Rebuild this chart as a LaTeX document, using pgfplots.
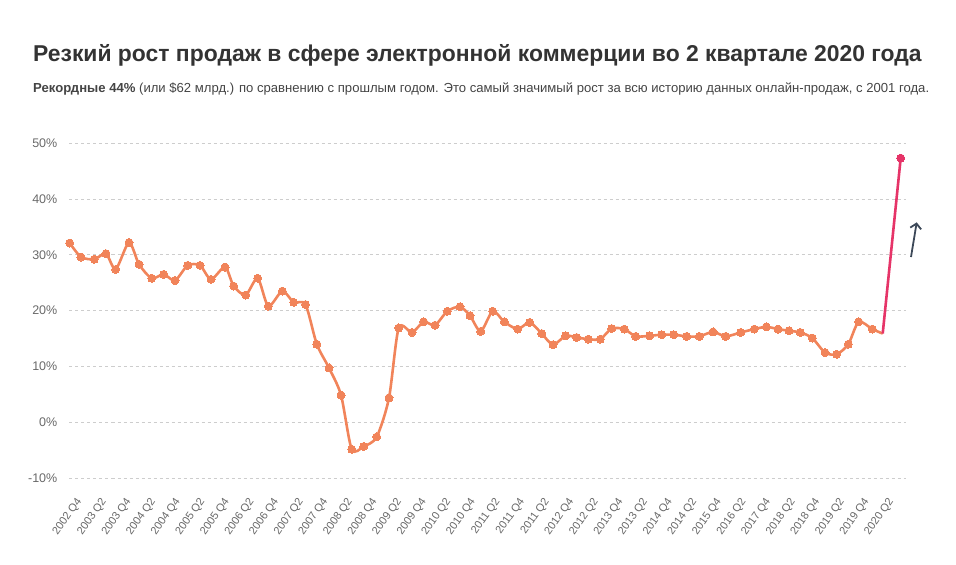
\documentclass[border=0pt]{standalone}
\usepackage{pgfplots}
\pgfplotsset{compat=1.18}
\usepackage{fontspec}
\setmainfont{Liberation Sans}
\usetikzlibrary{arrows.meta}
\definecolor{lineor}{RGB}{241,132,90}
\definecolor{linered}{RGB}{230,52,104}
\definecolor{arrowc}{RGB}{60,72,88}
\definecolor{titlec}{RGB}{51,51,51}
\definecolor{subc}{RGB}{68,68,68}
\definecolor{tickc}{RGB}{105,105,105}
\definecolor{gridc}{RGB}{205,205,205}

% x = horizontal position of each quarter
\pgfplotstableread{
x      y
69.7   32.1
81.0   29.6
94.3   29.2
106.0  30.2
115.7  27.4
129.0  32.2
139.0  28.3
151.7  25.8
163.7  26.5
175.0  25.4
187.7  28.1
200.0  28.1
211.0  25.6
225.0  27.8
233.7  24.4
245.7  22.8
257.7  25.8
268.3  20.8
282.3  23.5
293.7  21.5
305.5  21.1
316.8  14.0
329.0  9.75
341.0  4.9
351.7  -4.8
363.7  -4.3
376.7  -2.6
389.0  4.4
398.7  16.9
412.0  16.1
423.7  18.0
435.0  17.4
447.3  19.9
460.0  20.7
470.0  19.1
480.7  16.3
492.7  19.9
504.3  18.0
517.7  16.7
529.7  17.9
541.7  15.9
553.0  13.9
565.7  15.5
576.7  15.2
588.3  14.9
600.3  14.9
611.7  16.8
624.3  16.7
635.7  15.4
649.7  15.5
661.7  15.7
673.7  15.7
686.7  15.4
699.3  15.4
713.0  16.2
725.7  15.4
740.7  16.1
754.3  16.7
766.3  17.1
778.0  16.7
789.0  16.4
800.3  16.1
812.3  15.1
825.0  12.5
836.7  12.2
848.3  14.0
858.7  18.0
872.3  16.7
882.7  15.9
}\sales

\pgfplotstableread{
x      y
882.7  15.9
900.7  47.3
}\jump

\begin{document}
\begin{tikzpicture}
\begin{axis}[
  scale only axis, width=836.5pt, height=335.3pt,
  xmin=69.5, xmax=906, ymin=-10, ymax=50,
  clip=false,
  axis line style={draw=none},
  major tick length=0pt,
  ymajorgrids,
  grid style={gridc, dashed, line width=0.7pt},
  ytick={-10,0,...,50},
  yticklabels={-10\%,0\%,10\%,20\%,30\%,40\%,50\%},
  yticklabel style={font=\fontsize{12.5}{14}\selectfont, text=tickc, inner sep=0pt, xshift=-12pt},
  xtick={83,107.6,...,896},
  xticklabels={2002 Q4,2003 Q2,2003 Q4,2004 Q2,2004 Q4,2005 Q2,2005 Q4,2006 Q2,2006 Q4,2007 Q2,2007 Q4,2008 Q2,2008 Q4,2009 Q2,2009 Q4,2010 Q2,2010 Q4,2011 Q2,2011 Q4,2011 Q2,2012 Q4,2012 Q2,2013 Q4,2013 Q2,2014 Q4,2014 Q2,2015 Q4,2016 Q2,2017 Q4,2018 Q2,2018 Q4,2019 Q2,2019 Q4,2020 Q2},
  xticklabel style={font=\fontsize{11}{12}\selectfont, text=tickc, inner sep=0pt, anchor=east, xshift=-3.3pt, yshift=-21pt, rotate=55},
]
% page frame: 956 x 565 with the plot box at (69.5, 86.7) from the lower left
\path (rel axis cs:0,0) ++(-69.5pt,-86.7pt) rectangle ++(956pt,565pt);
\node[anchor=base west, inner sep=0pt, text=titlec,
  font=\fontsize{22.9}{26}\selectfont\bfseries] at ([xshift=-36.5pt,yshift=416.3pt]rel axis cs:0,0)
  {Резкий рост продаж в сфере электронной коммерции во 2 квартале 2020 года};
\node[anchor=base west, inner sep=0pt, text=subc,
  font=\fontsize{13.1}{15}\selectfont] at ([xshift=-36.5pt,yshift=385.3pt]rel axis cs:0,0)
  {\textbf{Рекордные 44\%} (или \$62 млрд.) по сравнению с прошлым годом. Это самый значимый рост за всю историю данных онлайн-продаж, с 2001 года.};
\addplot[lineor, line width=2.6pt, smooth, tension=0.45,
  mark=*, mark size=4pt, mark indices={1,...,68},
  mark options={solid, fill=lineor, draw=lineor, line width=0pt}]
  table[x=x, y=y] {\sales};
\addplot[linered, line width=2.6pt,
  mark=*, mark size=4pt, mark indices={2},
  mark options={solid, fill=linered, draw=linered, line width=0pt}]
  table[x=x, y=y] {\jump};
\draw[arrowc, line width=1.8pt, -{Straight Barb[length=5pt,width=11pt]}]
  (axis cs:911,29.6) -- (axis cs:916.7,35.8);
\end{axis}
\end{tikzpicture}
\end{document}
